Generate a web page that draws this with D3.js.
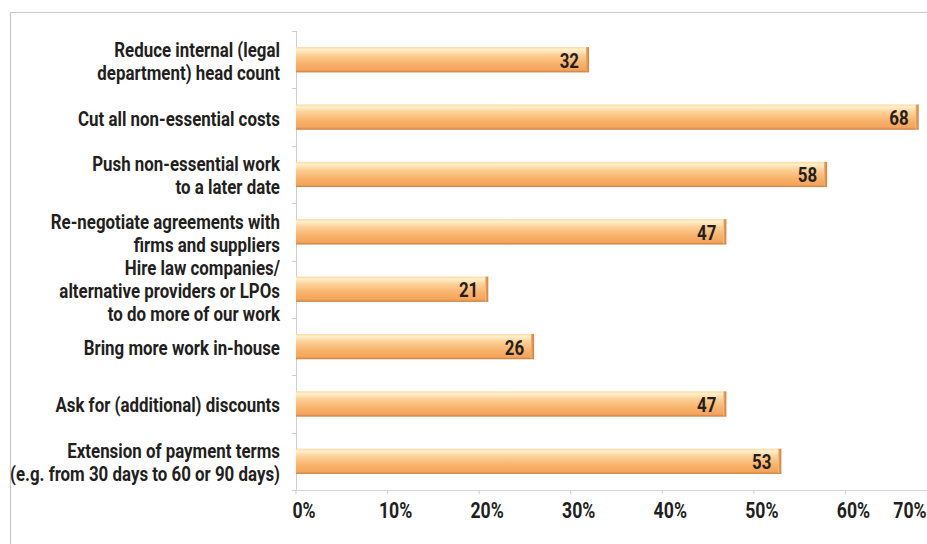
<!DOCTYPE html>
<html><head><meta charset="utf-8">
<script src="https://cdn.jsdelivr.net/npm/d3@7"></script>
<style>
body{margin:0;background:#fff;}
svg{display:block;}
text{font-family:Roboto,"DejaVu Sans",sans-serif;font-weight:bold;fill:#231f20;}
</style></head>
<body>
<svg id="c" width="927" height="544"></svg>
<script>
const categories = [
  ["Reduce internal (legal","department) head count"],
  ["Cut all non-essential costs"],
  ["Push non-essential work","to a later date"],
  ["Re-negotiate agreements with","firms and suppliers"],
  ["Hire law companies/","alternative providers or LPOs","to do more of our work"],
  ["Bring more work in-house"],
  ["Ask for (additional) discounts"],
  ["Extension of payment terms","(e.g. from 30 days to 60 or 90 days)"]
];
const values = [32, 68, 58, 47, 21, 26, 47, 53];
const tickValues = [0, 10, 20, 30, 40, 50, 60, 70];
const tickLabels = ["0%","10%","20%","30%","40%","50%","60%","70%"];

(function(){
const svg = d3.select("#c");
const pl = 296, pr = 937, pt = 31, pb = 490;

function condense(sel, k){
  sel.each(function(){
    const el = d3.select(this);
    const ax = +el.attr("data-ax");
    el.attr("transform", `translate(${ax},0) scale(${k},1) translate(${-ax},0)`);
  });
}

svg.append("path").attr("d","M10.5,544 V12.5 H927").attr("fill","none").attr("stroke","#c8c8c8").attr("stroke-width",1.2);

const x = d3.scaleLinear().domain([0,70]).range([pl,pr]);
const y = d3.scaleBand().domain(d3.range(categories.length)).range([pt,pb]).paddingInner(0.56).paddingOuter(0.28);
const yb = d3.scaleBand().domain(d3.range(categories.length)).range([pt,pb]);

const defs = svg.append("defs");
const g = defs.append("linearGradient").attr("id","bar").attr("x1",0).attr("y1",0).attr("x2",0).attr("y2",1);
[[0,"#fbd9a0"],[0.1,"#fff0cc"],[0.3,"#fdd199"],[0.65,"#f8b26a"],[0.9,"#f4a55c"],[1,"#d98a45"]].forEach(s=>g.append("stop").attr("offset",s[0]).attr("stop-color",s[1]));
const gc = defs.append("linearGradient").attr("id","cap").attr("x1",0).attr("y1",0).attr("x2",1).attr("y2",0);
[[0,"#f4a65c"],[1,"#c98445"]].forEach(s=>gc.append("stop").attr("offset",s[0]).attr("stop-color",s[1]));

svg.append("line").attr("x1",pl+0.5).attr("x2",pl+0.5).attr("y1",pt).attr("y2",pb).attr("stroke","#cfcfcf");
d3.range(categories.length+1).forEach(i=>{
  const yy = i<categories.length ? yb(i) : pb;
  svg.append("line").attr("x1",pl-4).attr("x2",pl).attr("y1",Math.round(yy)+0.5).attr("y2",Math.round(yy)+0.5).attr("stroke","#cfcfcf");
});

const xa = svg.append("g");
xa.append("line").attr("x1",pl).attr("x2",927).attr("y1",pb+0.5).attr("y2",pb+0.5).attr("stroke","#d4d4d4");
tickValues.forEach((t,i)=>{
  const px = x(t);
  if (px < 927) xa.append("line").attr("x1",px).attr("x2",px).attr("y1",pb).attr("y2",pb+4).attr("stroke","#cfcfcf");
  const lx = Math.min(px+8, 910);
  xa.append("text").attr("class","tl").attr("x",lx).attr("data-ax",lx).attr("y",518).attr("text-anchor","middle").attr("font-size",22).text(tickLabels[i]);
});

const bars = svg.append("g").selectAll("g").data(values).join("g");
bars.append("rect").attr("x",pl).attr("y",(d,i)=>y(i)).attr("width",d=>x(d)-pl-3).attr("height",y.bandwidth()).attr("fill","url(#bar)");
bars.append("rect").attr("x",d=>x(d)-3).attr("y",(d,i)=>y(i)).attr("width",3).attr("height",y.bandwidth()).attr("fill","url(#cap)");
bars.append("line").attr("x1",pl).attr("x2",d=>x(d)).attr("y1",(d,i)=>y(i)+y.bandwidth()-0.5).attr("y2",(d,i)=>y(i)+y.bandwidth()-0.5).attr("stroke","#c88347").attr("stroke-opacity",0.6);
bars.append("text").attr("class","vl").attr("x",d=>x(d)-10).attr("data-ax",d=>x(d)-10).attr("y",(d,i)=>y(i)+y.bandwidth()/2+8).attr("text-anchor","end").attr("font-size",21).text(d=>d);

categories.forEach((lines,i)=>{
  const cy = y(i)+y.bandwidth()/2;
  const lh = 23;
  const t = svg.append("text").attr("class","cl").attr("data-ax",280).attr("text-anchor","end").attr("font-size",21);
  lines.forEach((ln,j)=>{
    t.append("tspan").attr("x",280).attr("y",cy + (j-(lines.length-1)/2)*lh + 8.5).text(ln);
  });
});

const ref = svg.selectAll("text.cl").filter((d,i)=>i===1).node();
const k = 202 / ref.getComputedTextLength();
condense(svg.selectAll("text.cl"), k);
condense(svg.selectAll("text.vl"), k);
condense(svg.selectAll("text.tl"), k);
})();
</script>
</body></html>
